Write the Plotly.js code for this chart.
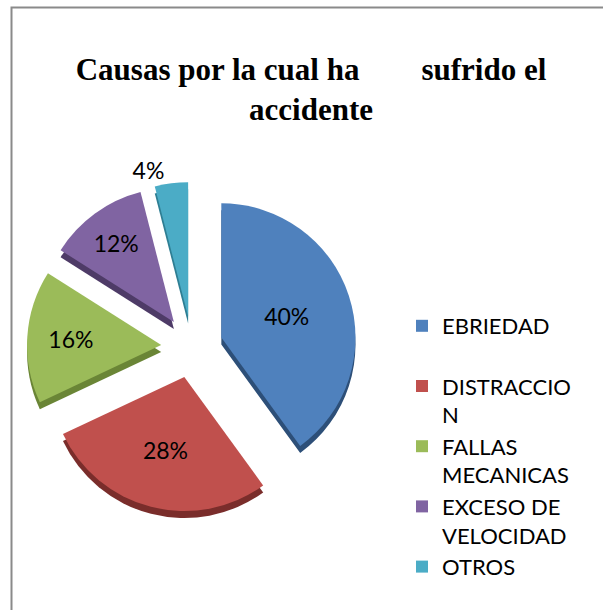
<!DOCTYPE html>
<html>
<head>
<meta charset="utf-8">
<script src="https://cdn.plot.ly/plotly-3.0.1.min.js"></script>
<style>html,body{margin:0;padding:0;background:#fff;}#chart{width:603px;height:610px;}</style>
</head>
<body>
<div id="chart"></div>
<script>
// Data
var categories = ["EBRIEDAD", "DISTRACCION", "FALLAS MECANICAS", "EXCESO DE VELOCIDAD", "OTROS"];
var legendLabels = ["EBRIEDAD<br>&nbsp;", "DISTRACCIO<br>N", "FALLAS<br>MECANICAS", "EXCESO DE<br>VELOCIDAD", "OTROS"];
var values = [40, 28, 16, 12, 4];

var colors = ["#4F81BD", "#C0504D", "#9BBB59", "#8064A2", "#4BACC6"];
var sideColors = ["#2d4f78", "#7a2d2b", "#6a8536", "#4e3b67", "#2e7e93"];
var pulls = [0.23, 0.23, 0.23, 0.23, 0.23];

var W = 603, H = 610;
var cx = 192, cy = 347, box = 330, depth = 7;
function dx(c){ return [(c - box/2)/W, (c + box/2)/W]; }
function dy(c){ return [(H - (c + box/2))/H, (H - (c - box/2))/H]; }

var sidePie = {
  type: "pie",
  labels: legendLabels,
  values: values,
  sort: false,
  direction: "clockwise",
  rotation: 0,
  pull: pulls,
  marker: {colors: sideColors, line: {width: 0}},
  textinfo: "none",
  hoverinfo: "skip",
  showlegend: false,
  domain: {x: dx(cx), y: dy(cy + depth)}
};

var mainPie = {
  type: "pie",
  labels: legendLabels,
  values: values,
  sort: false,
  direction: "clockwise",
  rotation: 0,
  pull: pulls,
  marker: {colors: colors, line: {width: 0}},
  textinfo: "percent",
  textposition: ["inside", "inside", "inside", "inside", "outside"],
  insidetextorientation: "horizontal",
  insidetextfont: {family: "Lato, 'Open Sans', sans-serif", size: 23, color: "#000"},
  outsidetextfont: {family: "Lato, 'Open Sans', sans-serif", size: 23, color: "#000"},
  domain: {x: dx(cx), y: dy(cy)}
};

var layout = {
  width: W, height: H,
  margin: {l: 0, r: 0, t: 0, b: 0},
  paper_bgcolor: "#fff",
  title: {
    text: "<b>Causas por la cual ha&nbsp;&nbsp;&nbsp;&nbsp;&nbsp;&nbsp;&nbsp;&nbsp;sufrido el<br>accidente</b>",
    font: {family: "'Liberation Serif', 'Times New Roman', serif", size: 31, color: "#000"},
    x: 311/W, xanchor: "center", xref: "paper",
    y: 1 - 80/H, yanchor: "top", yref: "container"
  },
  showlegend: true,
  legend: {
    x: 402/W, xanchor: "left",
    y: 1 - 305/H, yanchor: "top",
    valign: "top",
    font: {family: "Lato, 'Open Sans', sans-serif", size: 22, color: "#000"},
    bgcolor: "rgba(0,0,0,0)",
    traceorder: "normal"
  },
  shapes: [
    {type: "rect", xref: "paper", yref: "paper",
     x0: 11.5/W, x1: 1.2, y0: -0.2, y1: 1 - 7.5/H,
     line: {color: "#8a8a8a", width: 2}, fillcolor: "rgba(0,0,0,0)"}
  ]
};

Plotly.newPlot("chart", [sidePie, mainPie], layout, {displayModeBar: false, staticPlot: true});
</script>
</body>
</html>
